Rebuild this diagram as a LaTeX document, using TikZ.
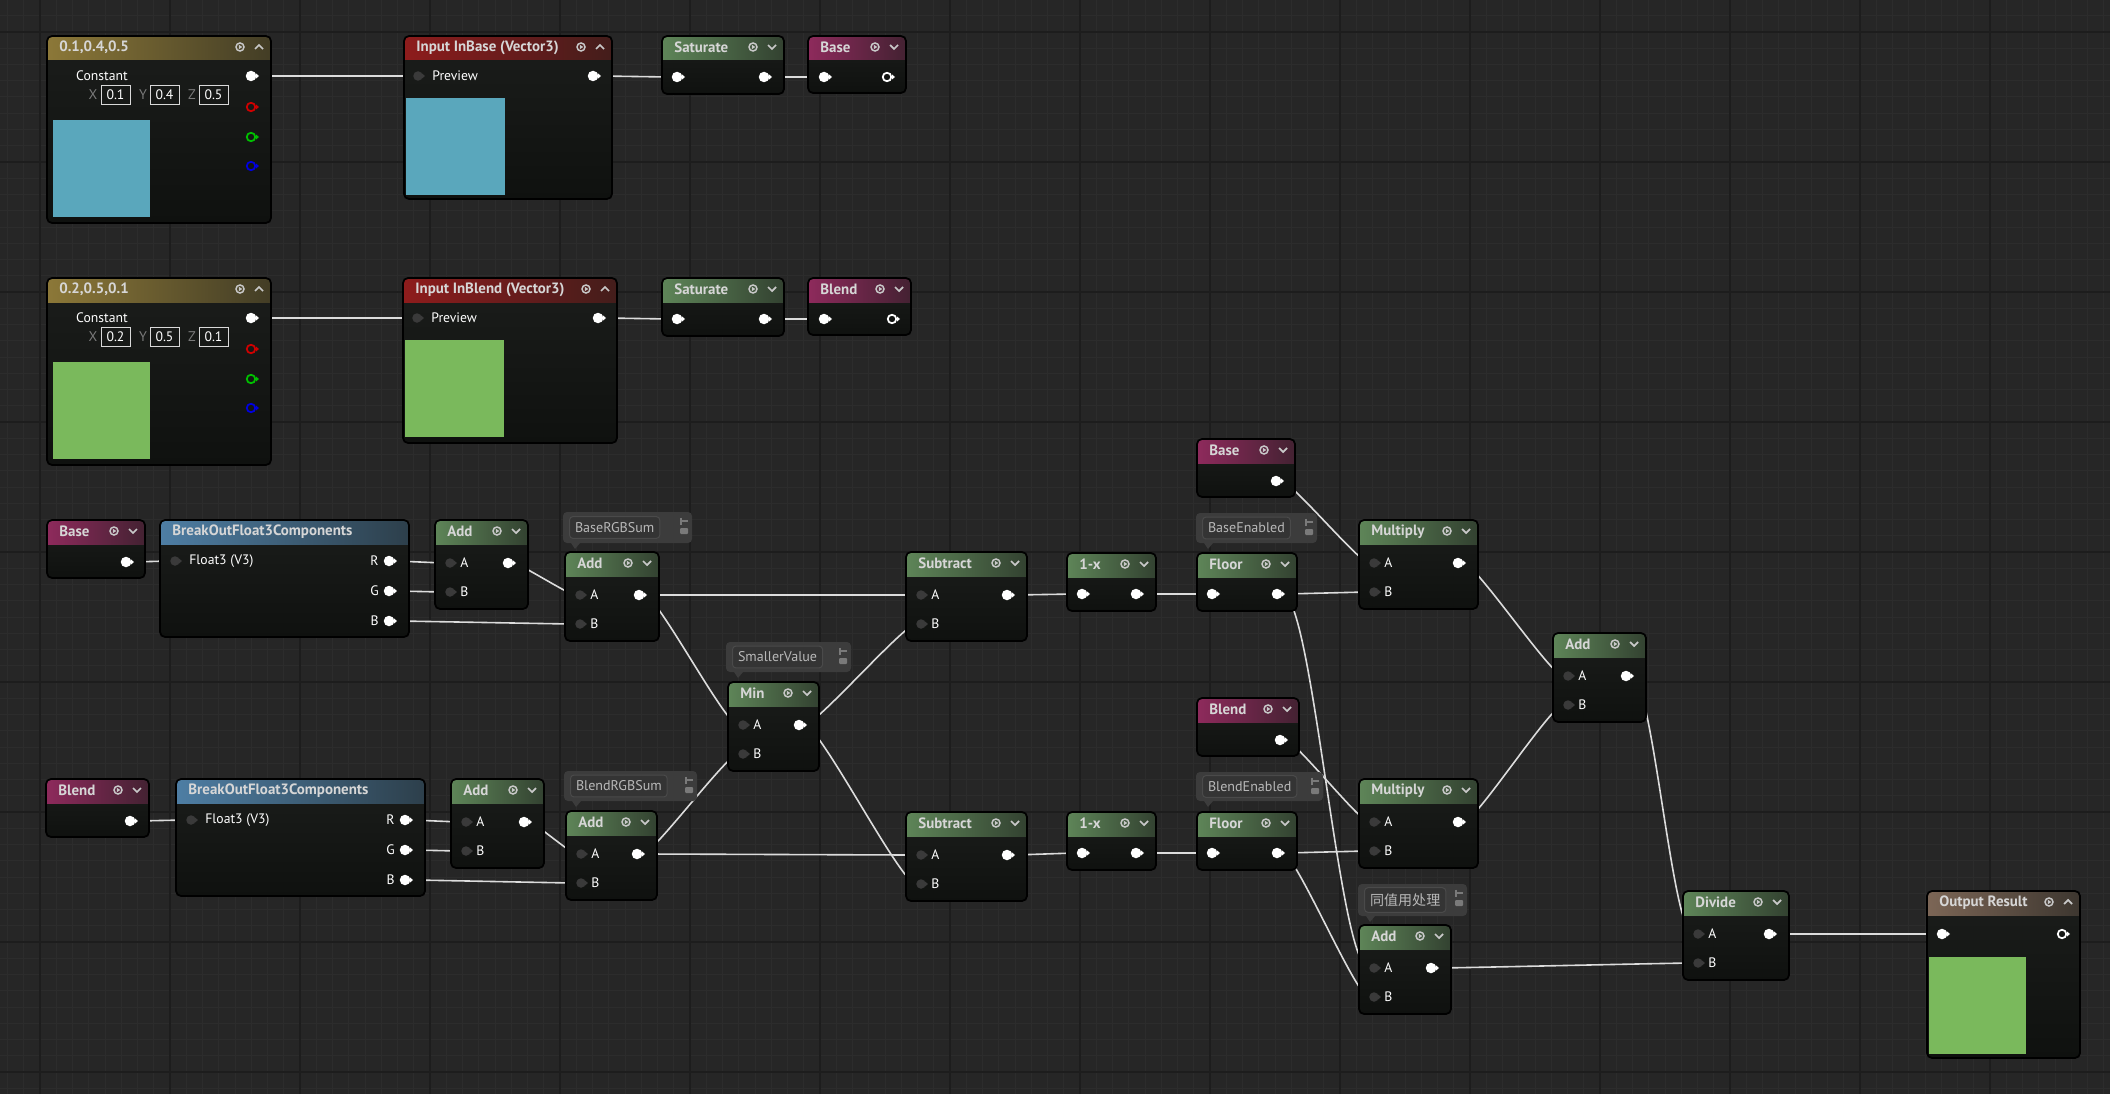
\documentclass[tikz,border=0pt]{standalone}
\usepackage{fontspec}
\setmainfont{PT Sans}
\newfontfamily\cjk{Noto Sans CJK SC}
\usetikzlibrary{fit}
\definecolor{canvas}{HTML}{262626}
\definecolor{gridminor}{HTML}{2C2C2C}
\definecolor{gridmajor}{HTML}{1D1D1D}
\definecolor{bodytop}{HTML}{1B1D1B}
\definecolor{bodybot}{HTML}{0F110F}
\definecolor{hdrgold}{HTML}{8C7838}
\definecolor{hdrred}{HTML}{8E1C1C}
\definecolor{hdrgreen}{HTML}{5E8558}
\definecolor{hdrpink}{HTML}{8E2A5C}
\definecolor{hdrblue}{HTML}{4E7EA4}
\definecolor{hdrbrown}{HTML}{7C6656}
\definecolor{titletext}{HTML}{D6D6D6}
\definecolor{pindark}{HTML}{3A3A3A}
\definecolor{wirecol}{HTML}{DCDCDC}
\definecolor{swblue}{HTML}{5AA7BC}
\definecolor{swgreen}{HTML}{7AB95C}
\definecolor{pinred}{HTML}{D00000}
\definecolor{pingreen}{HTML}{00C000}
\definecolor{pinblue}{HTML}{0000E0}
\definecolor{cmtback}{HTML}{3C3C3C}
\definecolor{cmtinner}{HTML}{343434}
\definecolor{cmtline}{HTML}{4A4A4A}
\definecolor{cmttext}{HTML}{B8B8B8}
\definecolor{iconcol}{HTML}{C8C8C8}
\definecolor{axiscol}{HTML}{7A7A7A}
\pgfdeclarelayer{gridlayer}
\pgfdeclarelayer{wirelayer}
\pgfsetlayers{gridlayer,wirelayer,main}
\tikzset{
  nodeedge/.style={draw=black, line width=0.35mm, rounded corners=1mm},
  title/.style={font=\fontsize{8.5}{10}\selectfont\bfseries, text=titletext, inner sep=0pt},
  pinlabel/.style={font=\fontsize{7.8}{9}\selectfont, text=white, inner sep=0pt},
  axislbl/.style={font=\fontsize{8}{9}\selectfont, text=axiscol, inner sep=0pt},
  valbox/.style={draw=white!85!black, line width=0.2mm, text=white, font=\fontsize{7.8}{9}\selectfont,
    minimum width=5.8mm, minimum height=3.8mm, inner sep=0pt},
  pinw/.style={circle, fill=white, minimum size=2.1mm, inner sep=0pt},
  pind/.style={circle, fill=pindark, minimum size=1.9mm, inner sep=0pt},
  pinh/.style={circle, draw=#1, line width=0.35mm, minimum size=1.7mm, inner sep=0pt},
  wire/.style={draw=wirecol, line width=0.32mm, out=0, in=180, looseness=0.2},
  iconline/.style={draw=iconcol, line width=0.3mm},
  cmtbox/.style={fill=cmtinner, draw=cmtline, line width=0.2mm, rounded corners=0.7mm, text=cmttext,
    font=\fontsize{8}{10}\selectfont, inner xsep=1.1mm, minimum height=4.2mm},
  minorgrid/.style={draw=gridminor, line width=0.2mm},
  majorgrid/.style={draw=gridmajor, line width=0.3mm}
}
% header icons: right edge, top, 0 = caret down / 1 = caret up
\newcommand\hdricons[3]{%
  \draw[iconline] (#1-31,#2+11) circle (0.8mm);
  \fill[iconcol] (#1-32.2,#2+8.8) -- (#1-28.6,#2+11) -- (#1-32.2,#2+13.2) -- cycle;
  \ifnum#3=0
    \draw[iconline, line width=0.35mm] (#1-16,#2+9) -- (#1-12,#2+13) -- (#1-8,#2+9);
  \else
    \draw[iconline, line width=0.35mm] (#1-16,#2+13) -- (#1-12,#2+9) -- (#1-8,#2+13);
  \fi}
% node: name, x, y, w, h, header colour, title, icons (0 none, 1 down, 2 up)
\newcommand\mnode[8]{%
  \path[top color=bodytop, bottom color=bodybot, rounded corners=1mm] (#2,#3) rectangle ++(#4,#5);
  \begin{scope}
    \clip[rounded corners=1mm] (#2,#3) rectangle ++(#4,#5);
    \shade[left color=#6, right color=#6!35!bodytop] (#2,#3) rectangle ++(#4,24);
  \end{scope}
  \path[nodeedge] (#2,#3) rectangle ++(#4,#5);
  \node[fit={(#2,#3) (#2+#4,#3+#5)}, inner sep=0pt] (#1) {};
  \node[title, anchor=west] (#1-t) at (#2+12,#3+11.5) {#7};
  \ifcase#8\relax\or\hdricons{#2+#4}{#3}{0}\or\hdricons{#2+#4}{#3}{1}\fi}
\newcommand\pinW[3]{\node[pinw] (#1) at (#2,#3) {};
  \fill[white] (#2+4.5,#3-3) -- (#2+8,#3) -- (#2+4.5,#3+3) -- cycle;}
\newcommand\pinD[3]{\node[pind] (#1) at (#2,#3) {};
  \fill[pindark] (#2+4,#3-2.5) -- (#2+7,#3) -- (#2+4,#3+2.5) -- cycle;}
\newcommand\pinH[4]{\node[pinh=#4] (#1) at (#2,#3) {};
  \fill[#4] (#2+5,#3-2.5) -- (#2+8,#3) -- (#2+5,#3+2.5) -- cycle;}
\newcommand\plabel[5]{\node[pinlabel, anchor=#4] (#1) at (#2,#3) {#5};}
% math nodes
\newcommand\optwo[5]{\mnode{#1}{#2}{#3}{#4}{89}{hdrgreen}{#5}{1}
  \pinD{#1a}{#2+15}{#3+43}\plabel{#1-la}{#2+25}{#3+43}{west}{A}
  \pinD{#1b}{#2+15}{#3+72}\plabel{#1-lb}{#2+25}{#3+72}{west}{B}
  \pinW{#1o}{#2+#4-20}{#3+43}}
\newcommand\opone[5]{\mnode{#1}{#2}{#3}{#4}{58}{hdrgreen}{#5}{1}
  \pinW{#1i}{#2+15}{#3+41}\pinW{#1o}{#2+#4-20}{#3+41}}
\newcommand\parnode[5]{\mnode{#1}{#2}{#3}{#4}{58}{hdrpink}{#5}{1}
  \pinW{#1o}{#2+#4-19}{#3+42}}
\newcommand\parout[5]{\mnode{#1}{#2}{#3}{#4}{57}{hdrpink}{#5}{1}
  \pinW{#1i}{#2+16}{#3+41}\pinH{#1o}{#2+#4-19}{#3+41}{white}}
% constant vector: name, x, y, title, X, Y, Z, swatch
\newcommand\constv[8]{\mnode{#1}{#2}{#3}{224}{187}{hdrgold}{#4}{2}
  \node[pinlabel] (#1-c) at (#2+55,#3+40) {Constant};
  \node[axislbl] (#1-xl) at (#2+46,#3+59) {X};
  \node[valbox] (#1-xv) at (#2+68.5,#3+59) {#5};
  \node[axislbl] (#1-yl) at (#2+96,#3+59) {Y};
  \node[valbox] (#1-yv) at (#2+117.5,#3+59) {#6};
  \node[axislbl] (#1-zl) at (#2+145,#3+59) {Z};
  \node[valbox] (#1-zv) at (#2+166.5,#3+59) {#7};
  \fill[#8] (#2+6,#3+84) rectangle (#2+103,#3+181);
  \pinW{#1o}{#2+204}{#3+40}
  \pinH{#1r}{#2+204}{#3+71}{pinred}
  \pinH{#1g}{#2+204}{#3+101}{pingreen}
  \pinH{#1b}{#2+204}{#3+130}{pinblue}}
% input: name, x, y, w, h, title, swatch
\newcommand\inputv[7]{\mnode{#1}{#2}{#3}{#4}{#5}{hdrred}{#6}{2}
  \pinD{#1i}{#2+14}{#3+40}\plabel{#1-l}{#2+28}{#3+40}{west}{Preview}
  \pinW{#1o}{#2+#4-19}{#3+40}
  \fill[#7] (#2+2,#3+62) rectangle (#2+101,#3+159);}
\newcommand\breakv[3]{\mnode{#1}{#2}{#3}{249}{117}{hdrblue}{BreakOutFloat3Components}{0}
  \pinD{#1i}{#2+15}{#3+41}\plabel{#1-l}{#2+29}{#3+41}{west}{Float3 (V3)}
  \pinW{#1r}{#2+229}{#3+41}\plabel{#1-lr}{#2+219}{#3+41}{east}{R}
  \pinW{#1g}{#2+229}{#3+71}\plabel{#1-lg}{#2+219}{#3+71}{east}{G}
  \pinW{#1b}{#2+229}{#3+101}\plabel{#1-lb}{#2+219}{#3+101}{east}{B}}
% comment bubble: name, x1, y1, x2, y2, text
\newcommand\cmtbubble[6]{%
  \fill[cmtback, rounded corners=0.8mm] (#2,#3) rectangle (#4,#5);
  \fill[cmtback] (#2+8,#5) -- (#2+17,#5) -- (#2+12,#5+6) -- cycle;
  \node[cmtbox, anchor=west] (#1) at (#2+6,{(#3+#5)/2}) {#6};
  \draw[draw=axiscol, line width=0.3mm] (#4-12,#3+9) -- (#4-4,#3+9);
  \draw[draw=axiscol, line width=0.3mm] (#4-11,#3+5.5) -- (#4-11,#3+12.5);
  \fill[axiscol, rounded corners=0.2mm] (#4-12,#3+16) rectangle (#4-4,#3+22);}

\begin{document}
\begin{tikzpicture}[x=0.2mm, y=-0.2mm]
  \useasboundingbox (0,0) rectangle (2110,1094);
  \begin{pgfonlayer}{gridlayer}
    \fill[canvas] (0,0) rectangle (2110,1094);
    \foreach \gx in {7.5,23.75,...,2110} \draw[minorgrid] (\gx,0) -- (\gx,1094);
    \foreach \gy in {-0.5,15.75,...,1094} \draw[minorgrid] (0,\gy) -- (2110,\gy);
    \foreach \gx in {40,170,...,2110} \draw[majorgrid] (\gx,0) -- (\gx,1094);
    \foreach \gy in {32,162,...,1094} \draw[majorgrid] (0,\gy) -- (2110,\gy);
  \end{pgfonlayer}

  % inputs
  \constv{cbase}{47}{36}{0.1,0.4,0.5}{0.1}{0.4}{0.5}{swblue}
  \inputv{inbase}{404}{36}{208}{163}{Input InBase (Vector3)}{swblue}
  \opone{satbase}{662}{36}{122}{Saturate}
  \parout{obase}{808}{36}{98}{Base}
  \constv{cblend}{47}{278}{0.2,0.5,0.1}{0.2}{0.5}{0.1}{swgreen}
  \inputv{inblend}{403}{278}{214}{165}{Input InBlend (Vector3)}{swgreen}
  \opone{satblend}{662}{278}{122}{Saturate}
  \parout{oblend}{808}{278}{103}{Blend}

  % component sums
  \parnode{pbase}{47}{520}{98}{Base}
  \breakv{brbase}{160}{520}
  \optwo{baserg}{435}{520}{93}{Add}
  \optwo{basesum}{565}{552}{94}{Add}
  \parnode{pblend}{46}{779}{103}{Blend}
  \breakv{brblend}{176}{779}
  \optwo{blendrg}{451}{779}{93}{Add}
  \optwo{blendsum}{566}{811}{91}{Add}
  \optwo{minv}{728}{682}{91}{Min}

  % enable flags
  \optwo{subbase}{906}{552}{121}{Subtract}
  \opone{invbase}{1067}{553}{89}{1-x}
  \opone{flbase}{1197}{553}{100}{Floor}
  \optwo{subblend}{906}{812}{121}{Subtract}
  \opone{invblend}{1067}{812}{89}{1-x}
  \opone{flblend}{1197}{812}{100}{Floor}

  % blend result
  \parnode{pbase2}{1197}{439}{98}{Base}
  \parnode{pblend2}{1197}{698}{102}{Blend}
  \optwo{mulbase}{1359}{520}{119}{Multiply}
  \optwo{mulblend}{1359}{779}{119}{Multiply}
  \optwo{addcnt}{1359}{925}{92}{Add}
  \optwo{addall}{1553}{633}{93}{Add}
  \optwo{divr}{1683}{891}{106}{Divide}
  \mnode{result}{1927}{891}{153}{167}{hdrbrown}{Output Result}{2}
  \pinW{resulti}{1942}{934}
  \pinH{resulto}{2062}{934}{white}
  \fill[swgreen] (1929,957) rectangle (2026,1054);

  % comments
  \cmtbubble{cbasesum}{563}{512}{692}{543}{BaseRGBSum}
  \cmtbubble{csmall}{726}{642}{851}{672}{SmallerValue}
  \cmtbubble{cbaseen}{1196}{513}{1317}{543}{BaseEnabled}
  \cmtbubble{cblendsum}{564}{771}{697}{801}{BlendRGBSum}
  \cmtbubble{cblenden}{1196}{772}{1323}{801}{BlendEnabled}
  \cmtbubble{csame}{1358}{884}{1467}{916}{{\cjk 同值用处理}}

  \begin{pgfonlayer}{wirelayer}
    \draw[wire] (cbaseo) to (inbasei);
    \draw[wire] (inbaseo) to (satbasei);
    \draw[wire] (satbaseo) to (obasei);
    \draw[wire] (cblendo) to (inblendi);
    \draw[wire] (inblendo) to (satblendi);
    \draw[wire] (satblendo) to (oblendi);
    \draw[wire] (pbaseo) to (brbasei);
    \draw[wire] (brbaser) to (baserga);
    \draw[wire] (brbaseg) to (basergb);
    \draw[wire] (brbaseb) to (basesumb);
    \draw[wire] (basergo) to (basesuma);
    \draw[wire] (pblendo) to (brblendi);
    \draw[wire] (brblendr) to (blendrga);
    \draw[wire] (brblendg) to (blendrgb);
    \draw[wire] (brblendb) to (blendsumb);
    \draw[wire] (blendrgo) to (blendsuma);
    \draw[wire] (basesumo) to (subbasea);
    \draw[wire] (basesumo) to (minva);
    \draw[wire] (blendsumo) to (minvb);
    \draw[wire] (blendsumo) to (subblenda);
    \draw[wire] (minvo) to (subbaseb);
    \draw[wire] (minvo) to (subblendb);
    \draw[wire] (subbaseo) to (invbasei);
    \draw[wire] (invbaseo) to (flbasei);
    \draw[wire] (subblendo) to (invblendi);
    \draw[wire] (invblendo) to (flblendi);
    \draw[wire] (pbase2o) to (mulbasea);
    \draw[wire] (flbaseo) to (mulbaseb);
    \draw[wire] (pblend2o) to (mulblenda);
    \draw[wire] (flblendo) to (mulblendb);
    \draw[wire] (flbaseo) to (addcnta);
    \draw[wire] (flblendo) to (addcntb);
    \draw[wire] (mulbaseo) to (addalla);
    \draw[wire] (mulblendo) to (addallb);
    \draw[wire] (addallo) to (divra);
    \draw[wire] (addcnto) to (divrb);
    \draw[wire] (divro) to (resulti);
  \end{pgfonlayer}
\end{tikzpicture}
\end{document}
